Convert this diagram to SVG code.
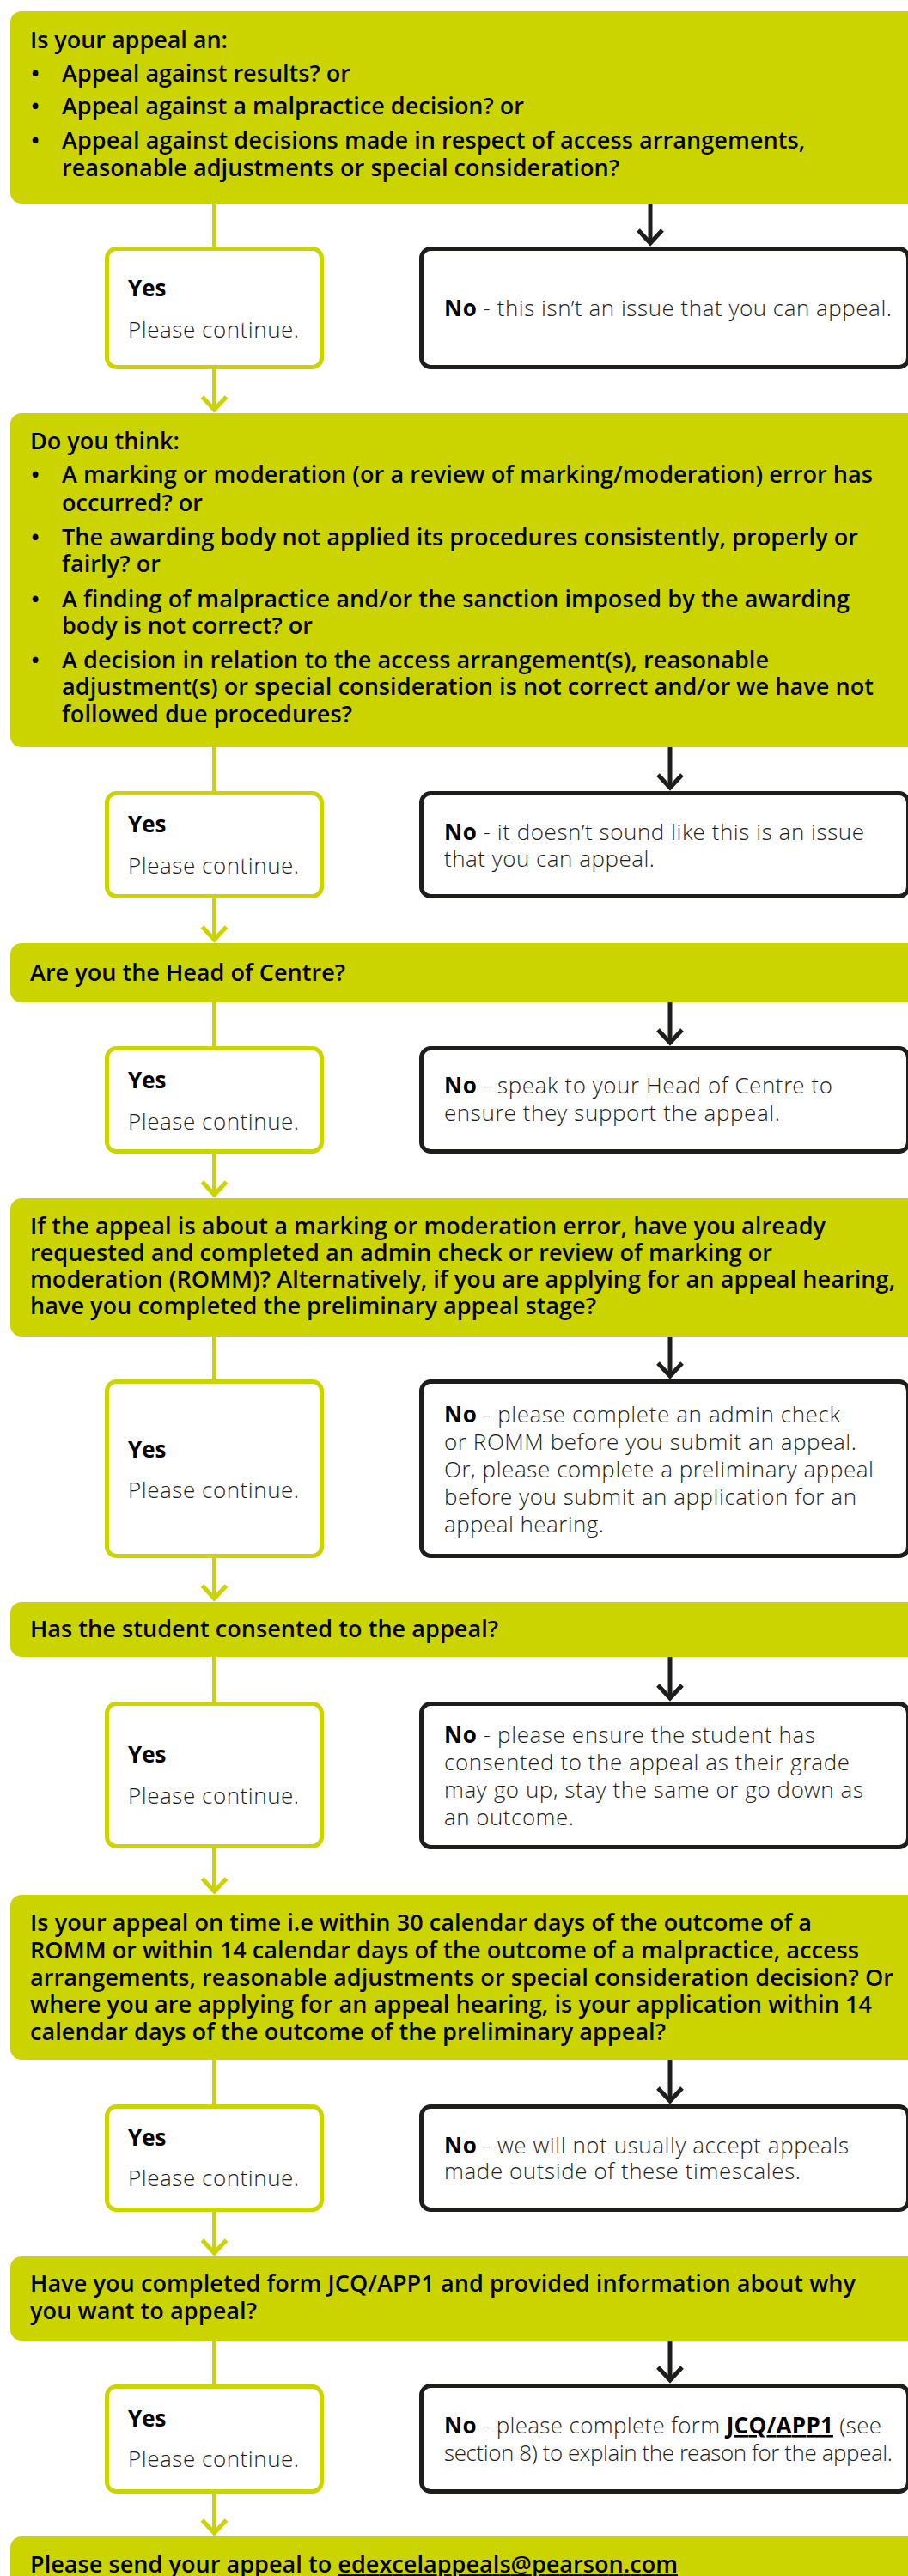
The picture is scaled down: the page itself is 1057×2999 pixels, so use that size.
<svg xmlns="http://www.w3.org/2000/svg" width="1057" height="2999" viewBox="0 0 1057 2999">
<style>
text{font-family:"Open Sans","Liberation Sans",sans-serif;font-size:26px;}
.q{fill:#ccd400;}
.qt{font-weight:600;fill:#000;font-size:27px;}
.yes{fill:#fff;stroke:#ccd400;stroke-width:5;}
.no{fill:#fff;stroke:#1d1d1b;stroke-width:5;}
.b{font-weight:700;fill:#000;}
.l{font-family:"Open Sans Light","Open Sans","Liberation Sans",sans-serif;font-weight:300;fill:#1d1d1b;}
.cy{stroke:#ccd400;stroke-width:5;fill:none;}
.cb{stroke:#1d1d1b;stroke-width:5;fill:none;}
.u{text-decoration:underline;}
</style>
<defs>
<marker id="ay" markerUnits="userSpaceOnUse" markerWidth="40" markerHeight="40" viewBox="-20 -20 40 40" refX="0" refY="0" orient="auto" overflow="visible"><path d="M-15,-14 L0,0 L-15,14" fill="none" stroke="#ccd400" stroke-width="5"/></marker>
<marker id="ab" markerUnits="userSpaceOnUse" markerWidth="40" markerHeight="40" viewBox="-20 -20 40 40" refX="0" refY="0" orient="auto" overflow="visible"><path d="M-15,-14 L0,0 L-15,14" fill="none" stroke="#1d1d1b" stroke-width="5"/></marker>
</defs>
<rect width="1057" height="2999" fill="#fff"/>

<g id="connectors">
<path class="cy" d="M249.5,237 V288"/>
<path class="cy" d="M249.5,429 V477" marker-end="url(#ay)"/>
<path class="cb" d="M757,237 V283" marker-end="url(#ab)"/>
<path class="cy" d="M249.5,869 V922"/>
<path class="cy" d="M249.5,1045 V1094" marker-end="url(#ay)"/>
<path class="cb" d="M780,869 V917" marker-end="url(#ab)"/>
<path class="cy" d="M249.5,1166 V1219"/>
<path class="cy" d="M249.5,1342 V1391" marker-end="url(#ay)"/>
<path class="cb" d="M780,1166 V1214" marker-end="url(#ab)"/>
<path class="cy" d="M249.5,1555 V1607"/>
<path class="cy" d="M249.5,1813 V1861" marker-end="url(#ay)"/>
<path class="cb" d="M780,1555 V1602" marker-end="url(#ab)"/>
<path class="cy" d="M249.5,1928 V1982"/>
<path class="cy" d="M249.5,2151 V2202" marker-end="url(#ay)"/>
<path class="cb" d="M780,1928 V1977" marker-end="url(#ab)"/>
<path class="cy" d="M249.5,2397 V2451"/>
<path class="cy" d="M249.5,2574 V2623" marker-end="url(#ay)"/>
<path class="cb" d="M780,2397 V2446" marker-end="url(#ab)"/>
<path class="cy" d="M249.5,2724 V2777"/>
<path class="cy" d="M249.5,2902 V2949" marker-end="url(#ay)"/>
<path class="cb" d="M780,2724 V2771" marker-end="url(#ab)"/>
</g>

<g id="q1">
<rect class="q" x="12" y="13" width="1070" height="224" rx="13"/>
<text class="qt" x="35" y="56" textLength="230">Is your appeal an:</text>
<text class="qt" x="36" y="95">•</text><text class="qt" x="72" y="95" textLength="336">Appeal against results? or</text>
<text class="qt" x="36" y="133">•</text><text class="qt" x="72" y="133" textLength="538">Appeal against a malpractice decision? or</text>
<text class="qt" x="36" y="173">•</text><text class="qt" x="72" y="173" textLength="865">Appeal against decisions made in respect of access arrangements,</text>
<text class="qt" x="72" y="205" textLength="649">reasonable adjustments or special consideration?</text>
</g>
<g id="yes1">
<rect class="yes" x="124.5" y="289.5" width="250" height="138" rx="11"/>
<text class="b" x="149" y="345">Yes</text>
<text class="l" x="149" y="393" textLength="199">Please continue.</text>
</g>
<g id="no1">
<rect class="no" x="490.5" y="289.5" width="567" height="138" rx="11"/>
<text x="517" y="368" textLength="521"><tspan class="b">No</tspan><tspan class="l"> - this isn’t an issue that you can appeal.</tspan></text>
</g>

<g id="q2">
<rect class="q" x="12" y="481" width="1070" height="389" rx="13"/>
<text class="qt" x="35" y="523" textLength="174">Do you think:</text>
<text class="qt" x="36" y="562">•</text><text class="qt" x="72" y="562" textLength="944">A marking or moderation (or a review of marking/moderation) error has</text>
<text class="qt" x="72" y="595" textLength="164">occurred? or</text>
<text class="qt" x="36" y="635">•</text><text class="qt" x="72" y="635" textLength="927">The awarding body not applied its procedures consistently, properly or</text>
<text class="qt" x="72" y="666" textLength="115">fairly? or</text>
<text class="qt" x="36" y="707">•</text><text class="qt" x="72" y="707" textLength="917">A finding of malpractice and/or the sanction imposed by the awarding</text>
<text class="qt" x="72" y="738" textLength="292">body is not correct? or</text>
<text class="qt" x="36" y="778">•</text><text class="qt" x="72" y="778" textLength="823">A decision in relation to the access arrangement(s), reasonable</text>
<text class="qt" x="72" y="809" textLength="945">adjustment(s) or special consideration is not correct and/or we have not</text>
<text class="qt" x="72" y="841" textLength="338">followed due procedures?</text>
</g>
<g id="yes2">
<rect class="yes" x="124.5" y="923.5" width="250" height="120" rx="11"/>
<text class="b" x="149" y="969">Yes</text>
<text class="l" x="149" y="1017" textLength="199">Please continue.</text>
</g>
<g id="no2">
<rect class="no" x="490.5" y="923.5" width="567" height="120" rx="11"/>
<text x="517" y="978" textLength="489"><tspan class="b">No</tspan><tspan class="l"> - it doesn’t sound like this is an issue</tspan></text>
<text class="l" x="517" y="1009" textLength="245">that you can appeal.</text>
</g>

<g id="q3">
<rect class="q" x="12" y="1098" width="1070" height="69" rx="13"/>
<text class="qt" x="35" y="1142" textLength="367">Are you the Head of Centre?</text>
</g>
<g id="yes3">
<rect class="yes" x="124.5" y="1220.5" width="250" height="120" rx="11"/>
<text class="b" x="149" y="1267">Yes</text>
<text class="l" x="149" y="1315" textLength="199">Please continue.</text>
</g>
<g id="no3">
<rect class="no" x="490.5" y="1220.5" width="567" height="120" rx="11"/>
<text x="517" y="1273" textLength="452"><tspan class="b">No</tspan><tspan class="l"> - speak to your Head of Centre to</tspan></text>
<text class="l" x="517" y="1305" textLength="391">ensure they support the appeal.</text>
</g>

<g id="q4">
<rect class="q" x="12" y="1395" width="1070" height="161" rx="13"/>
<text class="qt" x="35" y="1436.5" textLength="926">If the appeal is about a marking or moderation error, have you already</text>
<text class="qt" x="35" y="1467.5" textLength="864">requested and completed an admin check or review of marking or</text>
<text class="qt" x="35" y="1498.5" textLength="1007">moderation (ROMM)? Alternatively, if you are applying for an appeal hearing,</text>
<text class="qt" x="35" y="1529.5" textLength="659">have you completed the preliminary appeal stage?</text>
</g>
<g id="yes4">
<rect class="yes" x="124.5" y="1608.5" width="250" height="203" rx="11"/>
<text class="b" x="149" y="1697">Yes</text>
<text class="l" x="149" y="1744" textLength="199">Please continue.</text>
</g>
<g id="no4">
<rect class="no" x="490.5" y="1608.5" width="567" height="203" rx="11"/>
<text x="517" y="1656" textLength="461"><tspan class="b">No</tspan><tspan class="l"> - please complete an admin check</tspan></text>
<text class="l" x="517" y="1688" textLength="480">or ROMM before you submit an appeal.</text>
<text class="l" x="517" y="1720" textLength="500">Or, please complete a preliminary appeal</text>
<text class="l" x="517" y="1752" textLength="480">before you submit an application for an</text>
<text class="l" x="517" y="1784" textLength="186">appeal hearing.</text>
</g>

<g id="q5">
<rect class="q" x="12" y="1865" width="1070" height="64" rx="13"/>
<text class="qt" x="35" y="1906" textLength="545">Has the student consented to the appeal?</text>
</g>
<g id="yes5">
<rect class="yes" x="124.5" y="1983.5" width="250" height="166" rx="11"/>
<text class="b" x="149" y="2052">Yes</text>
<text class="l" x="149" y="2100" textLength="199">Please continue.</text>
</g>
<g id="no5">
<rect class="no" x="490.5" y="1983.5" width="567" height="167" rx="11"/>
<text x="517" y="2029" textLength="432"><tspan class="b">No</tspan><tspan class="l"> - please ensure the student has</tspan></text>
<text class="l" x="517" y="2061" textLength="472">consented to the appeal as their grade</text>
<text class="l" x="517" y="2093" textLength="488">may go up, stay the same or go down as</text>
<text class="l" x="517" y="2125" textLength="151">an outcome.</text>
</g>

<g id="q6">
<rect class="q" x="12" y="2206" width="1070" height="192" rx="13"/>
<text class="qt" x="35" y="2248" textLength="910">Is your appeal on time i.e within 30 calendar days of the outcome of a</text>
<text class="qt" x="35" y="2280" textLength="965">ROMM or within 14 calendar days of the outcome of a malpractice, access</text>
<text class="qt" x="35" y="2312" textLength="1005">arrangements, reasonable adjustments or special consideration decision? Or</text>
<text class="qt" x="35" y="2343" textLength="980">where you are applying for an appeal hearing, is your application within 14</text>
<text class="qt" x="35" y="2375" textLength="740">calendar days of the outcome of the preliminary appeal?</text>
</g>
<g id="yes6">
<rect class="yes" x="124.5" y="2452.5" width="250" height="120" rx="11"/>
<text class="b" x="149" y="2498">Yes</text>
<text class="l" x="149" y="2545" textLength="199">Please continue.</text>
</g>
<g id="no6">
<rect class="no" x="490.5" y="2452.5" width="567" height="120" rx="11"/>
<text x="517" y="2507" textLength="471"><tspan class="b">No</tspan><tspan class="l"> - we will not usually accept appeals</tspan></text>
<text class="l" x="517" y="2537" textLength="415">made outside of these timescales.</text>
</g>

<g id="q7">
<rect class="q" x="12" y="2627" width="1070" height="98" rx="13"/>
<text class="qt" x="35" y="2668" textLength="961">Have you completed form JCQ/APP1 and provided information about why</text>
<text class="qt" x="35" y="2700" textLength="264">you want to appeal?</text>
</g>
<g id="yes7">
<rect class="yes" x="124.5" y="2778.5" width="250" height="122" rx="11"/>
<text class="b" x="149" y="2825">Yes</text>
<text class="l" x="149" y="2872" textLength="199">Please continue.</text>
</g>
<g id="no7">
<rect class="no" x="490.5" y="2777.5" width="567" height="123" rx="11"/>
<text x="517" y="2833" textLength="509"><tspan class="b">No</tspan><tspan class="l"> - please complete form </tspan><tspan class="b u">JCQ/APP1</tspan><tspan class="l"> (see</tspan></text>
<text class="l" x="517" y="2865" textLength="522">section 8) to explain the reason for the appeal.</text>
</g>

<g id="q8">
<rect class="q" x="12" y="2953" width="1070" height="80" rx="13"/>
<text class="qt" x="35" y="2995" textLength="754">Please send your appeal to <tspan class="u">edexcelappeals@pearson.com</tspan></text>
</g>
</svg>
